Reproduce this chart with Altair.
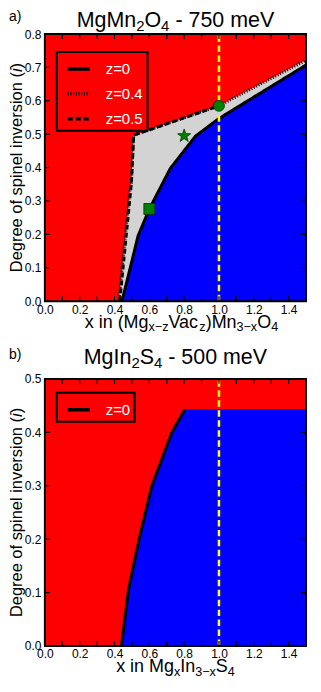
import altair as alt
import pandas as pd

W, H = 262, 268
FONT = "Liberation Sans"

# ---------------- panel a) MgMn2O4 - 750 meV ----------------
a_z0_x = [0.443, 0.50, 0.535, 0.60, 0.72, 0.865, 1.0, 1.5]
a_z0_y = [0.0, 0.12, 0.195, 0.276, 0.397, 0.494, 0.547, 0.707]
a_z04_x = [0.425, 0.488, 0.497, 0.510, 1.0, 1.5]
a_z04_y = [0.0, 0.33, 0.355, 0.497, 0.585, 0.722]
a_z05_x = [0.430, 0.497, 0.510, 1.0]
a_z05_y = [0.0, 0.355, 0.497, 0.585]
a_mark_x = [0.6, 0.8, 1.0]
a_mark_y = [0.276, 0.495, 0.585]
a_series = ["z=0", "z=0.4", "z=0.5"]
a_ymax = 0.8
a_yticks = [0.0, 0.1, 0.2, 0.3, 0.4, 0.5, 0.6, 0.7, 0.8]

# ---------------- panel b) MgIn2S4 - 500 meV ----------------
b_z0_x = [0.44, 0.48, 0.545, 0.615, 0.73, 0.805]
b_z0_y = [0.0, 0.105, 0.205, 0.30, 0.40, 0.443]
b_flat_x = [1.5]
b_flat_y = [0.443]
b_series = ["z=0"]
b_ymax = 0.5
b_yticks = [0.0, 0.1, 0.2, 0.3, 0.4, 0.5]

xticks = [0.0, 0.1, 0.2, 0.3, 0.4, 0.5, 0.6, 0.7, 0.8, 0.9, 1.0, 1.1, 1.2, 1.3, 1.4, 1.5]
xlabels = [0.0, 0.2, 0.4, 0.6, 0.8, 1.0, 1.2, 1.4]
vline_x = 1.0

RED, BLUE, GREY, GREEN, YELLOW = "#ff0000", "#0000ff", "#d3d3d3", "#008000", "#ffff00"
STAR = ("M0,-1L0.235,-0.324L0.951,-0.309L0.380,0.124L0.588,0.809L0,0.4"
        "L-0.588,0.809L-0.380,0.124L-0.951,-0.309L-0.235,-0.324Z")
a_mark_shape = ["square", STAR, "circle"]
a_mark_size = [121, 190, 121]

ADV = {' ': 278, '(': 333, ')': 333, '-': 333, '.': 278, '=': 584, '\u2212': 584,
       'M': 833, 'O': 778, 'S': 667, 'V': 667, 'I': 278, 'D': 722,
       'a': 556, 'b': 556, 'c': 500, 'e': 556, 'f': 278, 'g': 556, 'i': 222, 'l': 222,
       'm': 833, 'n': 556, 'o': 556, 'p': 556, 'r': 333, 's': 500, 'v': 500, 'x': 500, 'z': 500}


def adv(s, size):
    return sum(ADV.get(c, 556) for c in s) * size / 1000.0


ONE = pd.DataFrame({"k": [0]})


def rich(segs, size, center, base, vertical=False, sub_scale=0.7, sub_drop=0.18):
    def fs(st):
        return round(size * sub_scale, 1) if st == "sub" else size
    total = sum(adv(t, fs(st)) for t, st in segs)
    pos = -total / 2.0
    layers = []
    for t, st in segs:
        f = fs(st)
        lead = len(t) - len(t.lstrip(" "))
        pos += adv(" " * lead, f)
        txt = t.strip(" ")
        drop = size * sub_drop if st == "sub" else 0.0
        kw = dict(text=txt, align="left", baseline="alphabetic", fontSize=f,
                  font=FONT, color="black")
        if st == "it":
            kw["fontStyle"] = "italic"
        if vertical:
            kw["angle"] = 270
            enc = dict(x=alt.value(round(base + drop, 1)), y=alt.value(round(center - pos, 1)))
        else:
            enc = dict(x=alt.value(round(center + pos, 1)), y=alt.value(round(base + drop, 1)))
        layers.append(alt.Chart(ONE).mark_text(**kw).encode(**enc))
        pos += adv(txt, f)
    return layers


def label(txt, x, base, size=14):
    return alt.Chart(ONE).mark_text(text=txt, align="left", baseline="alphabetic",
                                    fontSize=size, font=FONT, color="black").encode(
        x=alt.value(x), y=alt.value(base))


def panel(ymax, yticks, areas, lines_df, series, dashes, legend_y, markers,
          title_segs, title_base, tag, tag_base, xtitle_segs, xtitle_center):
    xs = alt.Scale(domain=[0, 1.5], nice=False, zero=False)
    ys = alt.Scale(domain=[0, ymax], nice=False, zero=False)
    xax = alt.Axis(values=xlabels, format=".1f", ticks=False, domain=False, grid=False,
                   labelFont=FONT, labelFontSize=12, labelColor="black", labelPadding=3,
                   labelFlush=False, title=None)
    yax = alt.Axis(values=yticks, format=".1f", ticks=False, domain=False, grid=False,
                   labelFont=FONT, labelFontSize=12, labelColor="black", labelPadding=4,
                   labelFlush=False, title=None)

    def X(f):
        return alt.X(f, type="quantitative", scale=xs, axis=xax)

    def Y(f):
        return alt.Y(f, type="quantitative", scale=ys, axis=yax)

    layers = []
    for df, col in areas:
        layers.append(alt.Chart(df).mark_area(color=col, opacity=1).encode(
            x=X("x"), y=Y("y")))
    layers.append(alt.Chart(lines_df).mark_line(color="black", strokeWidth=3).encode(
        x=X("x"), y=Y("y"),
        strokeDash=alt.StrokeDash("series:N", scale=alt.Scale(domain=series, range=dashes),
                                  legend=alt.Legend(
                                      title=None, orient="none", legendX=12, legendY=legend_y,
                                      fillColor=RED, strokeColor="black", padding=4,
                                      symbolType="stroke", symbolSize=484,
                                      symbolStrokeWidth=3.5, symbolStrokeColor="black",
                                      symbolOffset=5, labelOffset=14, labelFontSize=15,
                                      labelFont=FONT, labelColor="white", rowPadding=4))))
    vdf = pd.DataFrame({"x": [vline_x], "y0": [0.0], "y1": [ymax]})
    layers.append(alt.Chart(vdf).mark_rule(color=YELLOW, strokeWidth=2.5,
                                           strokeDash=[6.5, 3.5]).encode(
        x=X("x"), y=Y("y0"), y2=alt.Y2("y1")))
    for mx, my, mshape, msize in markers:
        mdf = pd.DataFrame({"x": [mx], "y": [my]})
        layers.append(alt.Chart(mdf).mark_point(shape=mshape, size=msize, filled=True,
                                                fill=GREEN, stroke="#003300",
                                                strokeWidth=0.8, opacity=1).encode(
            x=X("x"), y=Y("y")))
    xt = pd.DataFrame({"t": xticks})
    yt = pd.DataFrame({"t": yticks})
    layers.append(alt.Chart(xt).mark_rule(color="black", strokeWidth=1.2).encode(
        x=X("t"), y=alt.value(H), y2=alt.value(H - 5)))
    layers.append(alt.Chart(xt).mark_rule(color="black", strokeWidth=1.2).encode(
        x=X("t"), y=alt.value(0), y2=alt.value(5)))
    layers.append(alt.Chart(yt).mark_rule(color="black", strokeWidth=1.2).encode(
        y=Y("t"), x=alt.value(0), x2=alt.value(5)))
    layers.append(alt.Chart(yt).mark_rule(color="black", strokeWidth=1.2).encode(
        y=Y("t"), x=alt.value(W - 5), x2=alt.value(W)))
    layers.append(alt.Chart(ONE).mark_rect(fillOpacity=0, stroke="black", strokeWidth=2).encode(
        x=alt.value(0), x2=alt.value(W), y=alt.value(0), y2=alt.value(H)))
    layers += rich(title_segs, 21.5, W / 2.0, title_base)
    layers.append(label(tag, -36, tag_base))
    layers += rich([("Degree of spinel inversion (", "n"), ("i", "it"), (")", "n")],
                   16.5, H / 2.0, -23, vertical=True)
    layers += rich(xtitle_segs, 18, xtitle_center, H + 26.5)
    return alt.layer(*layers).properties(width=W, height=H)


def long_lines(named):
    rows = []
    for name, xs_, ys_ in named:
        for x, y in zip(xs_, ys_):
            rows.append({"series": name, "x": x, "y": y})
    return pd.DataFrame(rows)


a_grey = pd.DataFrame({"x": a_z04_x, "y": a_z04_y})
a_blue = pd.DataFrame({"x": a_z0_x, "y": a_z0_y})
a_lines = long_lines([("z=0", a_z0_x, a_z0_y), ("z=0.4", a_z04_x, a_z04_y),
                      ("z=0.5", a_z05_x, a_z05_y)])
a_markers = list(zip(a_mark_x, a_mark_y, a_mark_shape, a_mark_size))

top = panel(a_ymax, a_yticks, [(a_grey, GREY), (a_blue, BLUE)], a_lines, a_series,
            [[1, 0], [1, 1.7], [5, 3]], 18, a_markers,
            [("MgMn", "n"), ("2", "sub"), ("O", "n"), ("4", "sub"), (" - 750 meV", "n")], -7,
            "a)", -13,
            [("x in (Mg", "n"), ("x\u2212z", "sub"), ("Vac", "n"), ("z", "sub"), (")Mn", "n"),
             ("3\u2212x", "sub"), ("O", "n"), ("4", "sub")], 137)

b_blue = pd.DataFrame({"x": b_z0_x + b_flat_x, "y": b_z0_y + b_flat_y})
b_lines = long_lines([("z=0", b_z0_x, b_z0_y)])

bottom = panel(b_ymax, b_yticks, [(b_blue, BLUE)], b_lines, b_series,
               [[1, 0]], 14, [],
               [("MgIn", "n"), ("2", "sub"), ("S", "n"), ("4", "sub"), (" - 500 meV", "n")], -15,
               "b)", -20,
               [("x in Mg", "n"), ("x", "sub"), ("In", "n"), ("3\u2212x", "sub"), ("S", "n"),
                ("4", "sub")], 131)

chart = alt.vconcat(top, bottom, spacing=12).resolve_scale(
    strokeDash="independent", x="independent", y="independent").properties(
    padding=0).configure_view(fill=RED, stroke="transparent").configure_legend(strokeWidth=2)

chart.save("out.html", embed_options={"renderer": "svg", "actions": False})
